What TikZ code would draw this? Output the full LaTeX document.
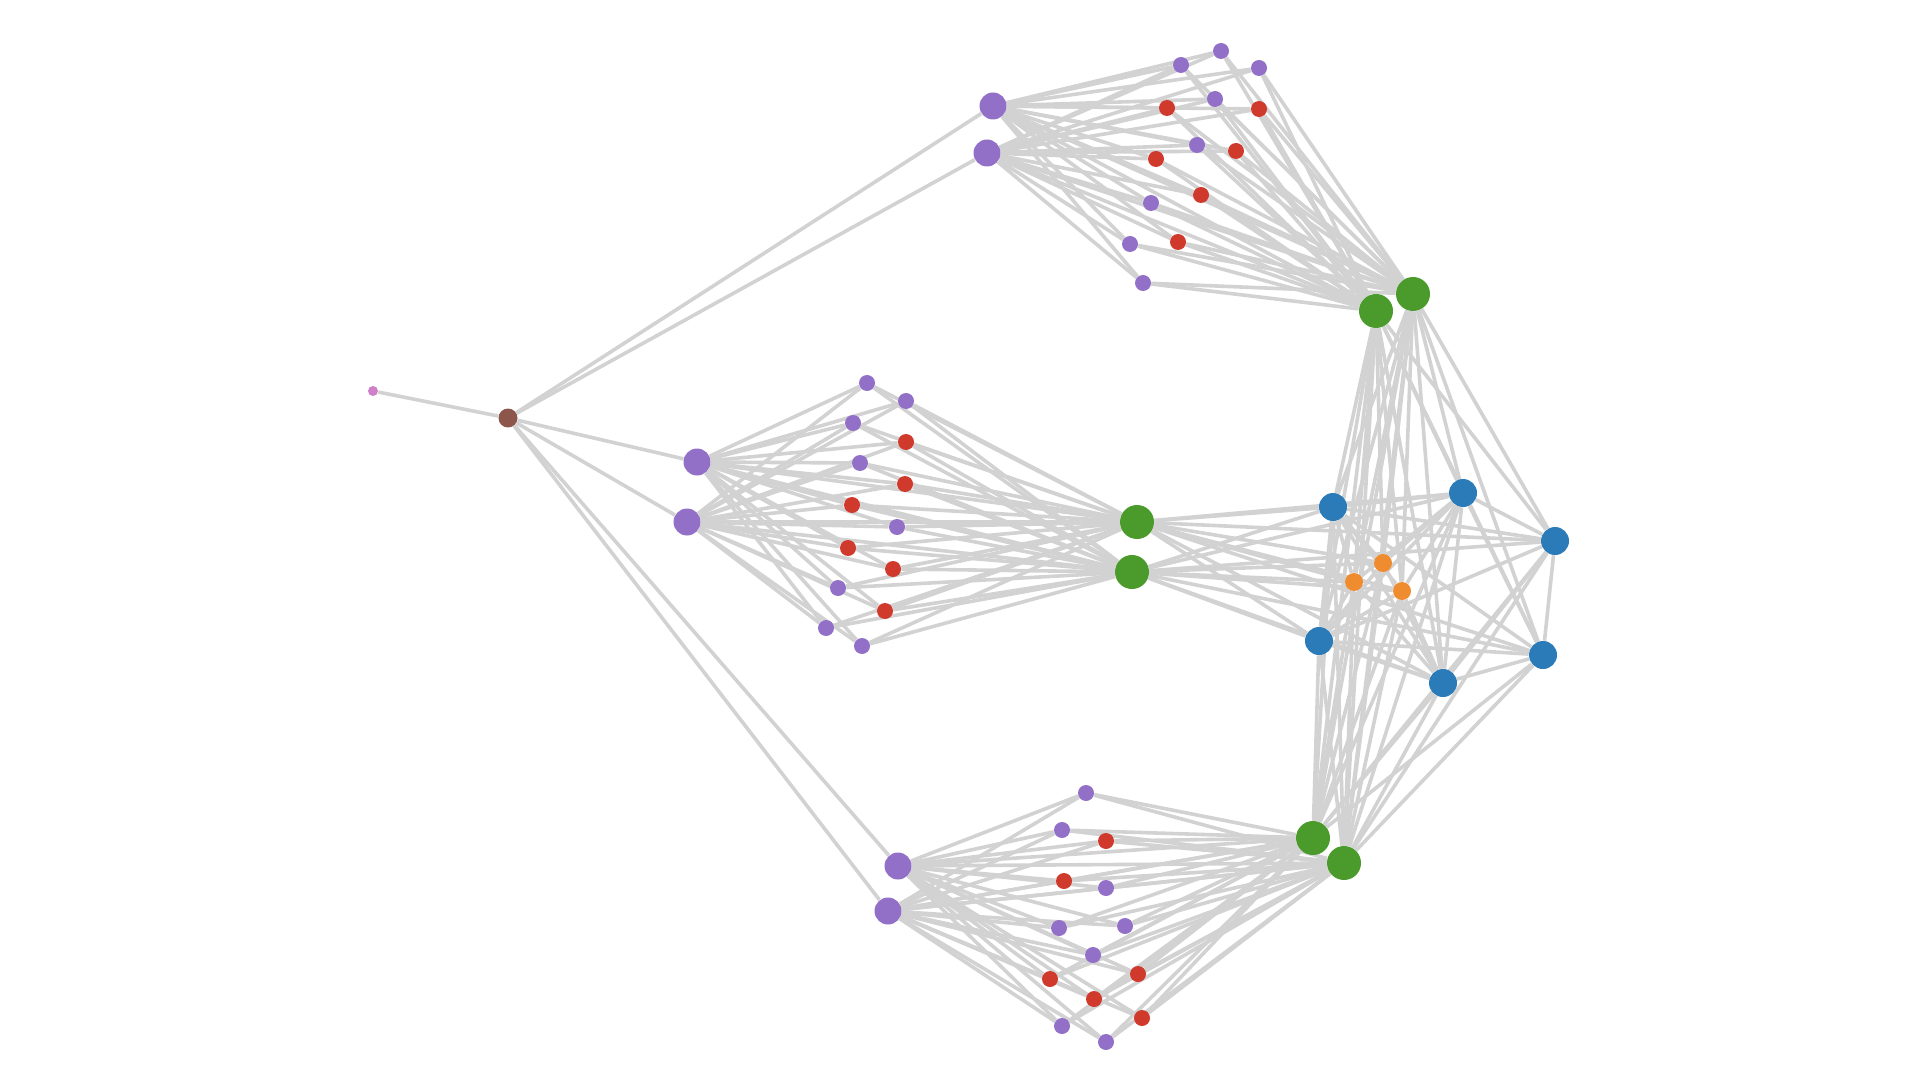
\documentclass[tikz,border=0pt]{standalone}
\usetikzlibrary{backgrounds}
\definecolor{cpurple}{HTML}{9370C8}
\definecolor{cred}{HTML}{D03A2C}
\definecolor{cgreen}{HTML}{4A9A2C}
\definecolor{cblue}{HTML}{2B7BB8}
\definecolor{corange}{HTML}{F08C30}
\definecolor{cbrown}{HTML}{8C564B}
\definecolor{cpink}{HTML}{D080C8}
\definecolor{cedge}{HTML}{D2D2D2}
\begin{document}
\begin{tikzpicture}[x=0.5pt,y=-0.5pt,
  dotbase/.style={circle,inner sep=0pt,draw=none},
  sp/.style={dotbase,fill=cpurple,minimum size=8pt},
  sr/.style={dotbase,fill=cred,minimum size=8pt},
  bigp/.style={dotbase,fill=cpurple,minimum size=13.5pt},
  grn/.style={dotbase,fill=cgreen,minimum size=17pt},
  blu/.style={dotbase,fill=cblue,minimum size=14pt},
  org/.style={dotbase,fill=corange,minimum size=9pt},
  brn/.style={dotbase,fill=cbrown,minimum size=9.5pt},
  pnk/.style={dotbase,fill=cpink,minimum size=5pt},
  edge/.style={draw=cedge,line width=1.8pt}]
\useasboundingbox (0,0) rectangle (1920,1080);
% root
\node[pnk] (P) at (373,391) {};
\node[brn] (R) at (508,418) {};
% big purple nodes
\node[bigp] (A1) at (993,106) {};
\node[bigp] (A2) at (987,153) {};
\node[bigp] (B1) at (697,462) {};
\node[bigp] (B2) at (687,522) {};
\node[bigp] (D1) at (898,866) {};
\node[bigp] (D2) at (888,911) {};
% greens
\node[grn] (G1) at (1376,311) {};
\node[grn] (G2) at (1413,294) {};
\node[grn] (C1) at (1137,522) {};
\node[grn] (C2) at (1132,572) {};
\node[grn] (E1) at (1313,838) {};
\node[grn] (E2) at (1344,863) {};
% blues
\node[blu] (u1) at (1333,507) {};
\node[blu] (u2) at (1463,493) {};
\node[blu] (u3) at (1555,541) {};
\node[blu] (u4) at (1319,641) {};
\node[blu] (u5) at (1443,683) {};
\node[blu] (u6) at (1543,655) {};
% oranges
\node[org] (o1) at (1383,563) {};
\node[org] (o2) at (1354,582) {};
\node[org] (o3) at (1402,591) {};
% cluster 1
\foreach \x/\y/\s [count=\i] in {1181/65/sp,1221/51/sp,1259/68/sp,1215/99/sp,1167/108/sr,1259/109/sr,1197/145/sp,1236/151/sr,1156/159/sr,1201/195/sr,1151/203/sp,1178/242/sr,1130/244/sp,1143/283/sp}
  \node[\s] (ka\i) at (\x,\y) {};
% cluster 2
\foreach \x/\y/\s [count=\i] in {867/383/sp,906/401/sp,853/423/sp,906/442/sr,860/463/sp,905/484/sr,852/505/sr,897/527/sp,848/548/sr,893/569/sr,838/588/sp,885/611/sr,826/628/sp,862/646/sp}
  \node[\s] (kb\i) at (\x,\y) {};
% cluster 3
\foreach \x/\y/\s [count=\i] in {1086/793/sp,1062/830/sp,1106/841/sr,1064/881/sr,1106/888/sp,1059/928/sp,1125/926/sp,1093/955/sp,1050/979/sr,1138/974/sr,1094/999/sr,1142/1018/sr,1062/1026/sp,1106/1042/sp}
  \node[\s] (kc\i) at (\x,\y) {};
\begin{scope}[on background layer]
  \draw[edge] (P) -- (R);
  \foreach \t in {A1,A2,B1,B2,D1,D2} \draw[edge] (R) -- (\t);
  \foreach \k/\pa/\pb/\ga/\gb in {ka/A1/A2/G1/G2,kb/B1/B2/C1/C2,kc/D1/D2/E1/E2}{
    \foreach \i in {1,...,14}{
      \draw[edge] (\pa) -- (\k\i);
      \draw[edge] (\pb) -- (\k\i);
      \draw[edge] (\k\i) -- (\ga);
      \draw[edge] (\k\i) -- (\gb);
    }
    \draw[edge] (\pa) -- (\ga);
    \draw[edge] (\pb) -- (\gb);
    \draw[edge] (\pa) -- (\gb);
    \draw[edge] (\pb) -- (\ga);
  }
  \foreach \g in {G1,G2,C1,C2,E1,E2}{
    \foreach \b in {u1,u2,u3,u4,u5,u6,o1,o2,o3} \draw[edge] (\g) -- (\b);
  }
  \foreach \g in {G1,G2} \foreach \e in {E1,E2} \draw[edge] (\g) -- (\e);
  \foreach \a/\b in {u1/u2,u1/u3,u1/u5,u1/u6,u2/u3,u2/u4,u2/u5,u2/u6,u3/u4,u3/u5,u3/u6,u4/u5,u4/u6,u5/u6,u1/u4}
    \draw[edge] (\a) -- (\b);
  \foreach \o in {o1,o2,o3} \foreach \b in {u1,u2,u4,u5} \draw[edge] (\o) -- (\b);
\end{scope}
\end{tikzpicture}
\end{document}
